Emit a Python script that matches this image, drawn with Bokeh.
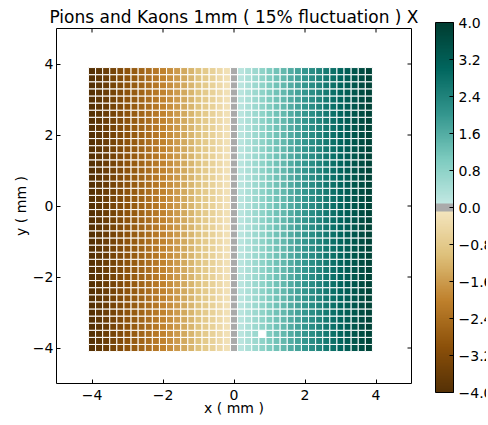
import numpy as np
from bokeh.plotting import figure
from bokeh.models import (LinearColorMapper, ColumnDataSource, ColorBar,
                          FixedTicker, CustomJSTickFormatter)
from bokeh.embed import file_html
from bokeh.resources import INLINE

# ---------------- data ----------------
x_centers = [-4.0, -3.8, -3.6, -3.4, -3.2, -3.0, -2.8, -2.6, -2.4, -2.2,
             -2.0, -1.8, -1.6, -1.4, -1.2, -1.0, -0.8, -0.6, -0.4, -0.2,
             0.0, 0.2, 0.4, 0.6, 0.8, 1.0, 1.2, 1.4, 1.6, 1.8,
             2.0, 2.2, 2.4, 2.6, 2.8, 3.0, 3.2, 3.4, 3.6, 3.8]
y_centers = [-4.0, -3.8, -3.6, -3.4, -3.2, -3.0, -2.8, -2.6, -2.4, -2.2,
             -2.0, -1.8, -1.6, -1.4, -1.2, -1.0, -0.8, -0.6, -0.4, -0.2,
             0.0, 0.2, 0.4, 0.6, 0.8, 1.0, 1.2, 1.4, 1.6, 1.8,
             2.0, 2.2, 2.4, 2.6, 2.8, 3.0, 3.2, 3.4, 3.6, 3.8]
column_values = [-4.0, -3.8, -3.6, -3.4, -3.2, -3.0, -2.8, -2.6, -2.4, -2.2,
                 -2.0, -1.8, -1.6, -1.4, -1.2, -1.0, -0.8, -0.6, -0.4, -0.2,
                 0.0, 0.2, 0.4, 0.6, 0.8, 1.0, 1.2, 1.4, 1.6, 1.8,
                 2.0, 2.2, 2.4, 2.6, 2.8, 3.0, 3.2, 3.4, 3.6, 3.8]
blank_cells = [(0.8, -3.6)]
cell_size = 0.2
x_lim = (-5, 5)
y_lim = (-5, 5)
x_ticks = [-4, -2, 0, 2, 4]
y_ticks = [-4, -2, 0, 2, 4]
cbar_ticks = [-4.0, -3.2, -2.4, -1.6, -0.8, 0.0, 0.8, 1.6, 2.4, 3.2, 4.0]
vmin, vmax = -4.0, 4.0

# ---------------- colour map (BrBG halves with grey centre) ----------------
low_anchors = ['#543005', '#8c510a', '#bf812d', '#dfc27d', '#f6e8c3']
high_anchors = ['#c7eae5', '#80cdc1', '#35978f', '#01665e', '#003c30']


def hex2rgb(c):
    return [int(c[i:i + 2], 16) for i in (1, 3, 5)]


def ramp(anchors, n):
    rgb = np.array([hex2rgb(c) for c in anchors], float)
    pos = np.linspace(0, 1, len(anchors))
    t = (np.arange(n) + 0.5) / n
    out = []
    for k in range(n):
        r, g, b = (np.interp(t[k], pos, rgb[:, j]) for j in range(3))
        out.append('#%02x%02x%02x' % (int(round(r)), int(round(g)), int(round(b))))
    return out


N = 256
pal = ramp(low_anchors, N // 2) + ramp(high_anchors, N // 2)
for k in range(125, 131):
    pal[k] = '#aaaaaa'
mapper = LinearColorMapper(palette=pal, low=vmin, high=vmax, nan_color='white')

xs, ys, vs = [], [], []
for y in y_centers:
    for x, v in zip(x_centers, column_values):
        xs.append(x)
        ys.append(y)
        vs.append(float('nan') if (x, y) in blank_cells else v)
src = ColumnDataSource(dict(x=xs, y=ys, v=vs))

FONT = 'DejaVu Sans'
minus_int = CustomJSTickFormatter(code="""
    var s = Math.abs(tick).toFixed(0);
    return (tick < -1e-9 ? '\u2212' : '') + s;""")
minus_1 = CustomJSTickFormatter(code="""
    var s = Math.abs(tick).toFixed(1);
    return (tick < -1e-9 ? '\u2212' : '') + s;""")


def style_axis(ax, ticks):
    ax.ticker = FixedTicker(ticks=ticks)
    ax.major_tick_in = 4
    ax.major_tick_out = 0
    ax.minor_tick_line_color = None
    ax.major_tick_line_color = 'black'
    ax.axis_line_color = None
    ax.major_label_text_font = FONT
    ax.major_label_text_font_size = '14px'
    ax.major_label_text_color = 'black'
    ax.axis_label_text_font = FONT
    ax.axis_label_text_font_size = '14px'
    ax.axis_label_text_font_style = 'normal'
    ax.axis_label_text_color = 'black'


p = figure(width=486, height=423, x_range=x_lim, y_range=y_lim,
           output_backend='svg', toolbar_location=None,
           min_border_left=56, min_border_right=75, min_border_top=28,
           min_border_bottom=40,
           title='Pions and Kaons 1mm ( 15% fluctuation ) X')
p.title.text_font = FONT
p.title.text_font_size = '17px'
p.title.text_font_style = 'normal'
p.title.align = 'center'
p.title.text_color = 'black'
p.title.standoff = 4
p.grid.visible = False
p.outline_line_color = 'black'
p.outline_line_width = 1
p.background_fill_color = 'white'
p.border_fill_color = 'white'

p.rect(x='x', y='y', width=cell_size, height=cell_size, source=src,
       fill_color={'field': 'v', 'transform': mapper},
       line_color='white', line_width=1)

style_axis(p.xaxis[0], x_ticks)
style_axis(p.yaxis[0], y_ticks)
p.xaxis[0].formatter = minus_int
p.yaxis[0].formatter = minus_int
p.xaxis[0].axis_label = 'x ( mm )'
p.yaxis[0].axis_label = 'y ( mm )'
p.xaxis[0].major_label_standoff = 6
p.yaxis[0].major_label_standoff = 3
p.xaxis[0].axis_label_standoff = -3
p.yaxis[0].axis_label_standoff = 1

# inward ticks on the top and right frame edges
p.ray(x=x_ticks, y=[y_lim[1]] * len(x_ticks), length=4, length_units='screen',
      angle=-np.pi / 2, line_color='black', line_width=1)
p.ray(x=[x_lim[1]] * len(y_ticks), y=y_ticks, length=4, length_units='screen',
      angle=np.pi, line_color='black', line_width=1)

# ---------------- colour bar ----------------
cbar = ColorBar(color_mapper=mapper, ticker=FixedTicker(ticks=cbar_ticks),
                formatter=minus_1, location=(379, -9), orientation='vertical',
                width=18, height=370, padding=0, margin=0,
                background_fill_color=None, border_line_color=None,
                bar_line_color='black', bar_line_width=1,
                major_tick_in=4, major_tick_out=0,
                major_tick_line_color='black', minor_tick_line_color=None,
                label_standoff=5, major_label_text_font=FONT,
                major_label_text_font_size='14px',
                major_label_text_color='black')
p.add_layout(cbar)

open('out.html', 'w').write(file_html(p, INLINE))
